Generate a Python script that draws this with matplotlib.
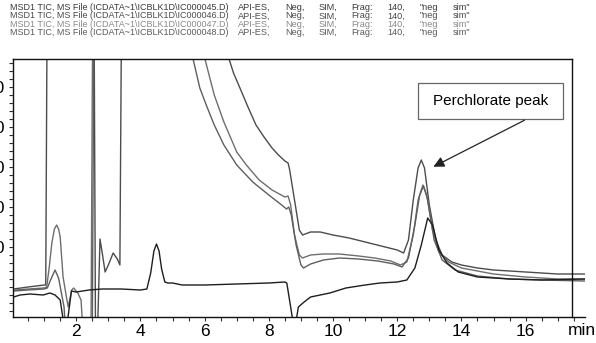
import matplotlib
matplotlib.use('Agg')
import matplotlib.pyplot as plt
import matplotlib.transforms as mtransforms
from matplotlib.patches import Rectangle
from matplotlib.ticker import MultipleLocator, FixedLocator

plt.rcParams['font.family'] = ['Liberation Sans', 'DejaVu Sans']

# retention time (min) and abundance
# values above/below the axis range are off-scale excursions
t45 = [0.05, 0.5, 1.0, 1.05, 1.1, 2.55, 2.6, 2.66, 2.74, 2.82, 2.9, 3.0, 3.15, 3.28, 3.36, 3.42,
       6.70, 6.76, 6.9, 7.1, 7.35, 7.6, 7.85, 8.1, 8.3, 8.5, 8.6, 8.65, 8.8, 8.95, 9.05, 9.3, 9.6,
       10.0, 10.5, 11.0, 11.5, 12.0, 12.2, 12.35, 12.5, 12.65, 12.75, 12.85, 13.0, 13.2, 13.4, 13.7,
       14.0, 14.5, 15.0, 15.5, 16.0, 16.5, 17.0, 17.85]
a45 = [-100, 0, 100, 100, 16000, 16000, -2500, -2500, 2400, 1600, 750, 1100, 1700, 1400, 1100, 16000,
       16000, 11400, 10700, 9950, 9000, 8100, 7500, 6950, 6600, 6300, 6200, 5850, 4350, 2850, 2600, 2750, 2750,
       2600, 2450, 2250, 2050, 1850, 1700, 2350, 4350, 5950, 6350, 5950, 4100, 2350, 1600, 1250,
       1100, 950, 850, 800, 750, 700, 650, 650]

t46 = [0.05, 0.5, 1.0, 1.08, 1.16, 1.24, 1.32, 1.39, 1.45, 1.5, 1.59, 1.7, 1.75, 1.86, 1.92, 2.05, 2.15,
       2.22, 2.46, 2.52, 5.95, 6.01, 6.3, 6.6, 7.0, 7.3, 7.7, 8.1, 8.5, 8.6, 8.68, 8.8, 8.95, 9.05, 9.3,
       9.7, 10.2, 10.8, 11.3, 11.8, 12.1, 12.3, 12.5, 12.65, 12.8, 12.92, 13.1, 13.3, 13.6, 14.0, 14.5,
       15.0, 16.0, 17.0, 17.85]
a46 = [-150, -100, -50, 0, 1000, 2200, 2900, 3100, 2900, 2500, 500, -550, -1000, -150, -50, -300, -650,
       -2500, -2500, 16000, 16000, 11400, 9600, 8250, 6750, 6100, 5350, 4850, 4500, 4550, 4100, 2600, 1600, 1450, 1600,
       1650, 1650, 1550, 1450, 1300, 1100, 1250, 2600, 4350, 5100, 4600, 2850, 1750, 1250, 950, 800,
       650, 500, 400, 400]

t47 = [0.05, 0.5, 1.0, 1.1, 1.2, 1.34, 1.45, 1.55, 1.62, 1.68, 2.5, 2.56, 5.58, 5.64, 5.85, 6.05, 6.3,
       6.6, 7.0, 7.5, 8.0, 8.4, 8.55, 8.62, 8.7, 8.85, 9.0, 9.08, 9.3, 9.7, 10.2, 10.8, 11.4, 11.9, 12.15,
       12.35, 12.55, 12.7, 12.82, 12.95, 13.15, 13.4, 13.8, 14.5, 15.5, 16.5, 17.85]
a47 = [-200, -150, -100, -50, 350, 850, 450, -400, -1000, -2500, -2500, 16000, 16000, 11400, 9950, 9100, 8100,
       7100, 6100, 5250, 4600, 4100, 3900, 4000, 3600, 2100, 1100, 950, 1150, 1350, 1450, 1400, 1300, 1150, 1000,
       1450, 3100, 4600, 5050, 4350, 2350, 1350, 850, 550, 400, 350, 300]

t48 = [0.05, 0.25, 0.56, 0.97, 1.18, 1.34, 1.5, 1.6, 1.72, 1.85, 2.0, 2.4, 2.8, 3.4, 4.0, 4.2, 4.32,
       4.42, 4.5, 4.58, 4.66, 4.76, 4.85, 5.0, 5.3, 6.0, 7.0, 8.0, 8.5, 8.56, 8.75, 8.85, 8.92, 9.1, 9.3,
       9.9, 10.4, 11.0, 11.46, 12.0, 12.3, 12.55, 12.75, 12.95, 13.1, 13.3, 13.55, 13.9, 14.5, 15.5, 16.5,
       17.85]
a48 = [-500, -400, -350, -400, -300, -400, -650, -1700, -1800, -200, -250, -150, -100, -100, -150, -100, 700,
       1800, 2150, 1800, 900, 250, 200, 200, 100, 100, 150, 200, 250, 200, -1700, -1700, -1000, -750, -500,
       -300, -50, 100, 200, 250, 350, 950, 2100, 3450, 3100, 1850, 1200, 750, 500, 400, 350,
       400]

header_left = ['MSD1 TIC, MS File (ICDATA~1\\ICBLK1D\\IC000045.D)',
               'MSD1 TIC, MS File (ICDATA~1\\ICBLK1D\\IC000046.D)',
               'MSD1 TIC, MS File (ICDATA~1\\ICBLK1D\\IC000047.D)',
               'MSD1 TIC, MS File (ICDATA~1\\ICBLK1D\\IC000048.D)']
header_right = ['API-ES,', 'Neg,', 'SIM,', 'Frag:', '140,', '"neg', 'sim"']
header_colors = ['#3a3a3a', '#4a4a4a', '#8a8a8a', '#5a5a5a']

x_ticks = [2, 4, 6, 8, 10, 12, 14, 16]
y_ticks = [2000, 4000, 6000, 8000, 10000]

W, H = 596, 343
fig = plt.figure(figsize=(W / 100, H / 100), dpi=100)
ax = fig.add_axes([13 / W, 1 - 317 / H, (585 - 13) / W, (317 - 59) / H])

traces = [(t45, a45, '#4c4c4c'), (t46, a46, '#6e6e6e'), (t47, a47, '#5e5e5e'), (t48, a48, '#1e1e1e')]
for t, a, c in traces:
    ax.plot(t, a, color=c, lw=1.0)

x_end = 17.45
ax.set_xlim(0.03, 17.85)
ax.set_ylim(-1500, 11400)
ax.spines['right'].set_position(('data', x_end))
ax.spines['top'].set_bounds(0.03, x_end)
for s in ax.spines.values():
    s.set_linewidth(1.0)
    s.set_color('#111111')

ax.xaxis.set_major_locator(FixedLocator(x_ticks))
ax.xaxis.set_minor_locator(MultipleLocator(0.5))
ax.yaxis.set_major_locator(FixedLocator(y_ticks))
ax.yaxis.set_minor_locator(MultipleLocator(400))
ax.tick_params(axis='both', which='both', direction='out', length=3, width=0.8, color='#333333')
ax.tick_params(axis='x', labelsize=12.5, pad=2)
ax.tick_params(axis='y', labelsize=12.5, pad=3)
ax.set_yticklabels([str(v) for v in y_ticks])

trans = mtransforms.blended_transform_factory(ax.transData, ax.transAxes)
ax.text(17.76, -0.022, 'min', transform=trans, ha='center', va='top', fontsize=12.5)

# annotation box + arrow
ax.add_patch(Rectangle((12.65, 8400), 17.16 - 12.65, 10200 - 8400, fc='white',
                       ec='#666666', lw=0.9, zorder=3))
ax.text(14.9, 9300, 'Perchlorate peak', ha='center', va='center', fontsize=11, zorder=4)
ax.annotate('', xy=(13.05, 5950), xytext=(16.04, 8400),
            arrowprops=dict(arrowstyle='-|>', color='#222222', lw=0.9, mutation_scale=16))

# header: left column plus the acquisition info, spread over the width it takes in the source
renderer = fig.canvas.get_renderer()
x0, x1 = 238, 470
for i, (txt, col) in enumerate(zip(header_left, header_colors)):
    y = 1 - (7.5 + 8.4 * i) / H
    fig.text(10 / W, y, txt, fontsize=6.5, color=col, va='center', ha='left')
    parts = [fig.text(0, y, p, fontsize=6.6, color=col, va='center', ha='left') for p in header_right]
    widths = [p.get_window_extent(renderer).width for p in parts]
    gap = (x1 - x0 - sum(widths)) / (len(parts) - 1)
    x = x0
    for p, w in zip(parts, widths):
        p.set_x(x / W)
        x += w + gap

fig.savefig('out.png', dpi=100)
